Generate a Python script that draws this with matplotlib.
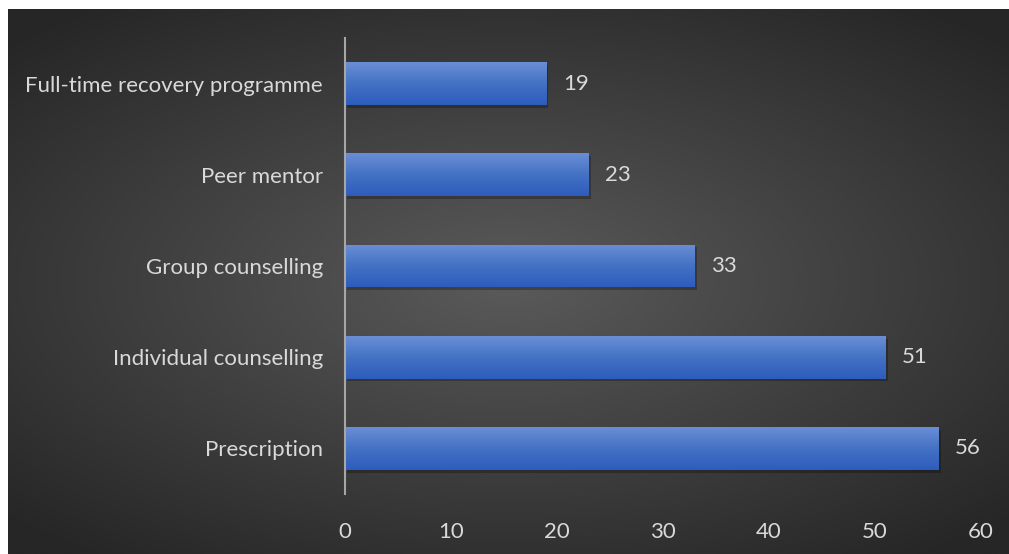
import numpy as np
import matplotlib.pyplot as plt
import matplotlib.patheffects as pe
from matplotlib.colors import LinearSegmentedColormap

categories = ["Prescription", "Individual counselling", "Group counselling",
              "Peer mentor", "Full-time recovery programme"]
values = [56, 51, 33, 23, 19]
xticks = [0, 10, 20, 30, 40, 50, 60]

plt.rcParams['font.family'] = ['Lato', 'DejaVu Sans']
txt = '#d9d9d9'
fs = 16

fig = plt.figure(figsize=(10.09, 5.54), dpi=100)
fig.patch.set_facecolor('white')

# radial gradient background
bg = fig.add_axes([8 / 1009, 0, 1 - 8 / 1009, 1 - 9 / 554])
yy, xx = np.mgrid[-1:1:300j, -1:1:600j]
r = np.sqrt((xx * 0.85) ** 2 + (yy * 0.95) ** 2)
bg_cmap = LinearSegmentedColormap.from_list('bg', ['#5a5a5a', '#262626'])
bg.imshow(np.clip(r, 0, 1.2), cmap=bg_cmap, aspect='auto', extent=[0, 1, 0, 1])
bg.axis('off')

ax = fig.add_axes([345 / 1009, 1 - 494 / 554, (981 - 345) / 1009, (494 - 38) / 554])
ax.patch.set_alpha(0)
y = np.arange(len(categories))
bars = ax.barh(y, values, height=0.47, color='#4472c4', zorder=2,
               path_effects=[pe.SimplePatchShadow(offset=(1.5, -2), alpha=0.25, shadow_rgbFace='black'),
                             pe.Normal()])

bar_cmap = LinearSegmentedColormap.from_list('bar', ['#2d5cbd', '#4472c4', '#6a8ed6'])
grad = np.linspace(0, 1, 100).reshape(-1, 1)
for b, v in zip(bars, values):
    x0, y0, w, h = b.get_x(), b.get_y(), b.get_width(), b.get_height()
    im = ax.imshow(grad, cmap=bar_cmap, aspect='auto', origin='lower',
                   extent=[x0, x0 + w, y0, y0 + h], zorder=3)
    im.set_clip_path(b)
    ax.annotate(str(v), (v, b.get_y() + h / 2), xytext=(12, 0), textcoords='offset points',
                va='center', ha='left', color=txt, fontsize=fs)

ax.set_xlim(0, 60)
ax.set_ylim(-0.5, len(categories) - 0.5)
ax.set_xticks(xticks)
ax.set_yticks(y)
ax.set_yticklabels(categories)
ax.tick_params(axis='both', length=0, colors=txt, labelsize=fs)
ax.tick_params(axis='x', pad=20)
ax.tick_params(axis='y', pad=16)
for s in ['top', 'right', 'bottom']:
    ax.spines[s].set_visible(False)
ax.spines['left'].set_color('#a6a6a6')
ax.spines['left'].set_linewidth(1.5)
ax.spines['left'].set_zorder(4)

fig.savefig('out.png', dpi=100)
